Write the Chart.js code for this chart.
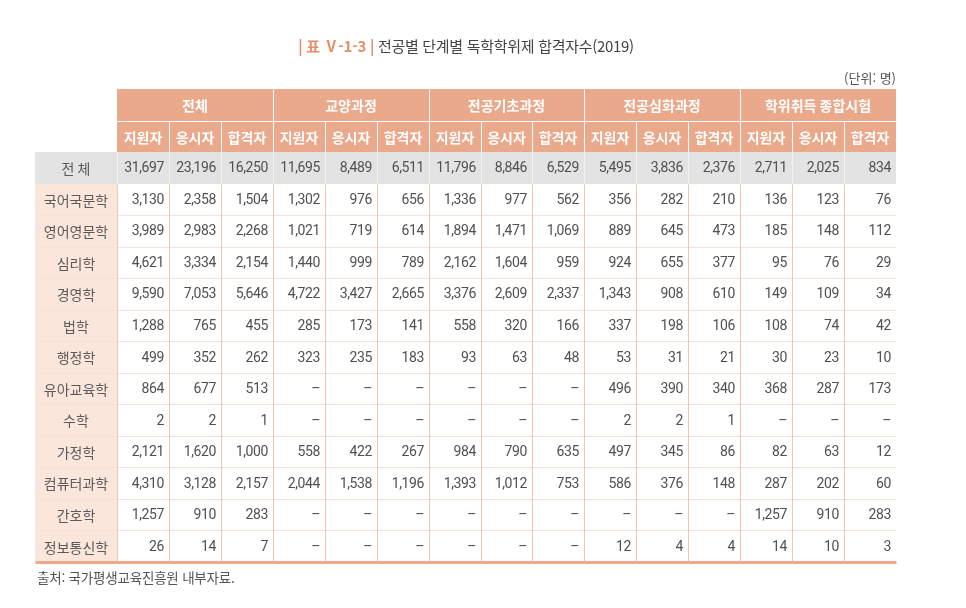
<!DOCTYPE html>
<html lang="ko">
<head>
<meta charset="utf-8">
<script src="https://cdn.jsdelivr.net/npm/chart.js@4/dist/chart.umd.min.js"></script>
<style>
	html, body { margin: 0; padding: 0; background: #fff; }
	#wrap { position: relative; width: 966px; height: 608px; font-family: "Noto Sans CJK KR", "Noto Sans", sans-serif; }
	#tbl { position: absolute; left: 0; top: 0; }
	.title { position: absolute; left: 0; width: 932px; top: 35px; text-align: center; font-size: 15px; color: #444; letter-spacing: -0.3px; }
	.title .no { color: #e58f66; font-weight: bold; }
	.unit { position: absolute; right: 70px; top: 68px; font-size: 13px; color: #555; }
	.src { position: absolute; left: 37px; top: 567px; font-size: 13.5px; color: #555; letter-spacing: -0.2px; }
</style>
</head>
<body>
<div id="wrap">
	<canvas id="tbl" width="966" height="608"></canvas>
	<div class="title"><span class="no">| 표 Ⅴ-1-3 |</span> 전공별 단계별 독학학위제 합격자수(2019)</div>
	<div class="unit">(단위: 명)</div>
	<div class="src">출처: 국가평생교육진흥원 내부자료.</div>
</div>
<script>
// --- Dữ liệu bảng ---
const groups = ["전체", "교양과정", "전공기초과정", "전공심화과정", "학위취득 종합시험"];
const subHeaders = ["지원자", "응시자", "합격자"];
const totalLabel = "전 체";
const totalRow = [31697, 23196, 16250, 11695, 8489, 6511, 11796, 8846, 6529, 5495, 3836, 2376, 2711, 2025, 834];
const majors = ["국어국문학", "영어영문학", "심리학", "경영학", "법학", "행정학", "유아교육학", "수학", "가정학", "컴퓨터과학", "간호학", "정보통신학"];
const _ = null;
const majorRows = [
	[3130, 2358, 1504, 1302, 976, 656, 1336, 977, 562, 356, 282, 210, 136, 123, 76],
	[3989, 2983, 2268, 1021, 719, 614, 1894, 1471, 1069, 889, 645, 473, 185, 148, 112],
	[4621, 3334, 2154, 1440, 999, 789, 2162, 1604, 959, 924, 655, 377, 95, 76, 29],
	[9590, 7053, 5646, 4722, 3427, 2665, 3376, 2609, 2337, 1343, 908, 610, 149, 109, 34],
	[1288, 765, 455, 285, 173, 141, 558, 320, 166, 337, 198, 106, 108, 74, 42],
	[499, 352, 262, 323, 235, 183, 93, 63, 48, 53, 31, 21, 30, 23, 10],
	[864, 677, 513, _, _, _, _, _, _, 496, 390, 340, 368, 287, 173],
	[2, 2, 1, _, _, _, _, _, _, 2, 2, 1, _, _, _],
	[2121, 1620, 1000, 558, 422, 267, 984, 790, 635, 497, 345, 86, 82, 63, 12],
	[4310, 3128, 2157, 2044, 1538, 1196, 1393, 1012, 753, 586, 376, 148, 287, 202, 60],
	[1257, 910, 283, _, _, _, _, _, _, _, _, _, 1257, 910, 283],
	[26, 14, 7, _, _, _, _, _, _, 12, 4, 4, 14, 10, 3]
];

// --- Bố cục / màu ---
const NCOL = groups.length * subHeaders.length;
const LABEL_SPAN = 1.58;               // cột tên ngành rộng hơn cột số
const NROW = 2 + 1 + majors.length;    // 2 dòng tiêu đề + dòng tổng + các ngành
const C = {
	head: "#e9a98a", total: "#e3e3e3", labelBg: "#fbe6db",
	vline: "#f3c6b2", hline: "#f8e2d8", bottom: "#eba98a",
	text: "#505050", label: "#5a5a5a"
};
const FONT = '14px "Noto Sans CJK KR", "Noto Sans", sans-serif';
const FONT_NUM = '14px Roboto, "Noto Sans", sans-serif';
const FONT_B = 'bold 14px "Noto Sans CJK KR", "Noto Sans", sans-serif';
const fmtNum = (n) => n === null ? "–" : new Intl.NumberFormat("en-US").format(n);

const tablePlugin = {
	id: "tableCells",
	afterDraw(chart) {
		const { ctx } = chart;
		const sx = chart.scales.x, sy = chart.scales.y;
		const X = (v) => Math.round(sx.getPixelForValue(v));
		const Y = (v) => Math.round(sy.getPixelForValue(v));
		const rect = (x0, y0, x1, y1, col) => { ctx.fillStyle = col; ctx.fillRect(X(x0), Y(y0), X(x1) - X(x0), Y(y1) - Y(y0)); };
		const line = (x0, y0, x1, y1, col, w) => {
			ctx.strokeStyle = col; ctx.lineWidth = w;
			const o = w % 2 ? 0.5 : 0;
			ctx.beginPath(); ctx.moveTo(X(x0) + o, Y(y0) + o); ctx.lineTo(X(x1) + o, Y(y1) + o); ctx.stroke();
		};
		const text = (s, xp, r, align, font, col, sp) => {
			ctx.font = font; ctx.fillStyle = col; ctx.textAlign = align; ctx.textBaseline = "middle";
			ctx.letterSpacing = sp || "0px";
			ctx.fillText(s, xp, (sy.getPixelForValue(r) + sy.getPixelForValue(r + 1)) / 2 + 1);
		};
		const num = (v, c, r) => text(fmtNum(v), X(c + 1) - 5, r, "right", FONT_NUM, C.text, "-0.4px");
		ctx.save();

		// tiêu đề
		rect(0, 0, NCOL, 2, C.head);
		line(0, 1, NCOL, 1, "#fff", 1);
		for (let c = 1; c < NCOL; c++) line(c, c % 3 === 0 ? 0 : 1, c, 2, "#fff", 1);
		groups.forEach((g, i) => text(g, (X(i * 3) + X(i * 3 + 3)) / 2, 0, "center", FONT_B, "#fff"));
		for (let c = 0; c < NCOL; c++) text(subHeaders[c % 3], (X(c) + X(c + 1)) / 2, 1, "center", FONT_B, "#fff");

		// dòng tổng
		rect(-LABEL_SPAN, 2, NCOL, 3, C.total);
		for (let c = 0; c < NCOL; c++) line(c, 2, c, 3, "#f4f4f4", 1);
		text(totalLabel, (X(-LABEL_SPAN) + X(0)) / 2, 2, "center", FONT, C.label);
		totalRow.forEach((v, c) => num(v, c, 2));

		// các ngành
		rect(-LABEL_SPAN, 3, 0, NROW, C.labelBg);
		for (let r = 4; r < NROW; r++) line(-LABEL_SPAN, r, NCOL, r, C.hline, 1);
		for (let c = 0; c < NCOL; c++) line(c, 3, c, NROW, C.vline, 1);
		majors.forEach((m, i) => {
			text(m, (X(-LABEL_SPAN) + X(0)) / 2, 3 + i, "center", FONT, C.label);
			majorRows[i].forEach((v, c) => num(v, c, 3 + i));
		});
		line(-LABEL_SPAN, NROW, NCOL, NROW, C.bottom, 3);
		ctx.restore();
	}
};

new Chart(document.getElementById("tbl").getContext("2d"), {
	type: "scatter",
	data: { datasets: [] },
	options: {
		responsive: false, animation: false, devicePixelRatio: 1,
		layout: { padding: { left: 35, right: 70, top: 89, bottom: 46 } },
		scales: {
			x: { type: "linear", min: -LABEL_SPAN, max: NCOL, display: false },
			y: { type: "linear", min: 0, max: NROW, reverse: true, display: false }
		},
		plugins: { legend: { display: false }, tooltip: { enabled: false } }
	},
	plugins: [tablePlugin]
});
</script>
</body>
</html>
